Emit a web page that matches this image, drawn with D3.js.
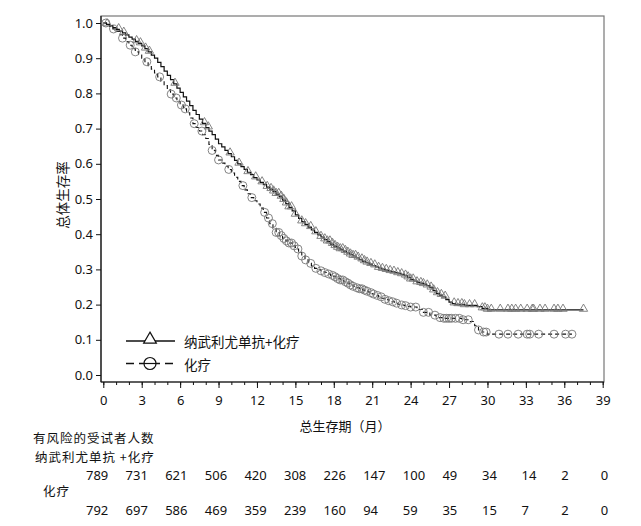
<!DOCTYPE html>
<html><head><meta charset="utf-8">
<script src="https://cdn.jsdelivr.net/npm/d3@7"></script>
<style>
html,body{margin:0;padding:0;background:#fff;}
svg{display:block;}
</style></head>
<body>
<svg id="c" width="641" height="526"></svg>
<script>
// ---- data ----
const seriesNames = ["纳武利尤单抗+化疗", "化疗"];
const xTicks = [0,3,6,9,12,15,18,21,24,27,30,33,36,39];
const yTicks = [0,0.1,0.2,0.3,0.4,0.5,0.6,0.7,0.8,0.9,1.0];

// KM step curve knots: [month, survival]
const nivoCurve = [
 [0,1.0],[0.25,0.996],[0.5,0.992],[0.75,0.987],[1,0.982],[1.25,0.977],[1.5,0.972],[1.75,0.966],
 [2,0.96],[2.25,0.954],[2.5,0.948],[2.75,0.942],[3,0.935],[3.25,0.927],[3.5,0.918],[3.75,0.909],
 [4,0.9],[4.25,0.888],[4.5,0.876],[4.75,0.863],[5,0.851],[5.25,0.839],[5.5,0.827],[5.75,0.815],
 [6,0.803],[6.25,0.79],[6.5,0.778],[6.75,0.765],[7,0.752],[7.25,0.74],[7.5,0.727],[7.75,0.715],
 [8,0.703],[8.25,0.693],[8.5,0.683],[8.75,0.67],[9,0.657],[9.25,0.648],[9.5,0.638],[9.75,0.629],
 [10,0.62],[10.25,0.61],[10.5,0.6],[10.75,0.592],[11,0.584],[11.25,0.576],[11.5,0.569],[11.75,0.561],
 [12,0.554],[12.25,0.547],[12.5,0.541],[12.75,0.534],[13,0.528],[13.25,0.521],[13.5,0.514],[13.75,0.506],
 [14,0.497],[14.25,0.487],[14.5,0.476],[14.75,0.466],[15,0.455],[15.25,0.445],[15.5,0.436],[15.75,0.428],
 [16,0.42],[16.25,0.412],[16.5,0.405],[16.75,0.398],[17,0.392],[17.25,0.385],[17.5,0.379],[17.75,0.372],
 [18,0.366],[18.25,0.361],[18.5,0.357],[18.75,0.352],[19,0.347],[19.25,0.342],[19.5,0.338],[19.75,0.333],
 [20,0.328],[20.25,0.323],[20.5,0.319],[20.75,0.315],[21,0.311],[21.25,0.307],[21.5,0.304],[21.75,0.301],
 [22,0.298],[22.25,0.295],[22.5,0.293],[22.75,0.291],[23,0.289],[23.25,0.286],[23.5,0.282],[23.75,0.277],
 [24,0.271],[24.25,0.267],[24.5,0.263],[24.75,0.261],[25,0.258],[25.25,0.254],[25.5,0.248],[25.75,0.24],
 [26,0.232],[26.25,0.227],[26.5,0.222],[26.75,0.214],[27,0.207],[27.25,0.203],[27.5,0.201],[28.2,0.198],
 [29.2,0.194],[29.6,0.189],[30,0.185],[37.5,0.185]
];
const chemoCurve = [
 [0,1.0],[0.25,0.995],[0.5,0.99],[0.75,0.983],[1,0.976],[1.25,0.967],[1.5,0.957],[1.75,0.947],
 [2,0.937],[2.25,0.927],[2.5,0.918],[2.75,0.909],[3,0.9],[3.25,0.89],[3.5,0.879],[3.75,0.869],
 [4,0.858],[4.25,0.847],[4.5,0.835],[4.75,0.822],[5,0.81],[5.25,0.798],[5.5,0.787],[5.75,0.777],
 [6,0.767],[6.25,0.756],[6.5,0.745],[6.75,0.73],[7,0.714],[7.25,0.703],[7.5,0.693],[7.75,0.683],
 [8,0.672],[8.25,0.655],[8.5,0.638],[8.75,0.624],[9,0.611],[9.25,0.602],[9.5,0.593],[9.75,0.584],
 [10,0.574],[10.25,0.562],[10.5,0.55],[10.75,0.538],[11,0.526],[11.25,0.515],[11.5,0.504],[11.75,0.495],
 [12,0.486],[12.25,0.474],[12.5,0.462],[12.75,0.446],[13,0.43],[13.25,0.417],[13.5,0.405],[13.75,0.396],
 [14,0.388],[14.25,0.381],[14.5,0.375],[14.75,0.367],[15,0.358],[15.25,0.348],[15.5,0.338],[15.75,0.327],
 [16,0.317],[16.25,0.31],[16.5,0.303],[16.75,0.299],[17,0.296],[17.25,0.291],[17.5,0.287],[17.75,0.283],
 [18,0.279],[18.25,0.274],[18.5,0.27],[18.75,0.265],[19,0.261],[19.25,0.256],[19.5,0.252],[19.75,0.248],
 [20,0.245],[20.25,0.241],[20.5,0.238],[20.75,0.234],[21,0.23],[21.25,0.226],[21.5,0.222],[21.75,0.218],
 [22,0.215],[22.25,0.211],[22.5,0.208],[22.75,0.204],[23,0.201],[23.25,0.199],[23.5,0.197],[23.75,0.195],
 [24,0.193],[24.5,0.186],[25,0.178],[25.5,0.17],[26,0.163],[26.5,0.161],[28,0.157],[28.6,0.152],
 [29,0.14],[29.3,0.128],[29.6,0.122],[30,0.116],[36.6,0.116]
];
// censored observation times (months)
const nivoCensor = [0.3,1.2,1.6,2.6,2.9,3.3,3.6,5.6,7.9,8.2,9.9,10.6,11.3,11.9,12.4,12.8,13.1,13.3,
 13.5,13.7,13.9,14.1,14.3,14.5,14.7,15.0,15.5,15.8,16.2,16.6,17.0,17.3,17.5,17.7,17.9,18.1,18.3,
 18.5,18.7,18.9,19.1,19.3,19.5,19.7,19.9,20.2,20.4,20.6,20.9,21.2,21.5,21.8,22.1,22.4,22.7,23.0,
 23.3,23.6,23.8,24.0,24.2,24.5,24.8,25.0,25.3,25.6,25.8,26.1,26.4,26.7,27.4,27.7,28.0,28.2,28.6,
 29.0,29.6,29.8,30.0,30.3,31.0,31.6,31.9,32.2,32.6,33.1,33.5,33.6,34.1,34.5,35.2,35.5,35.9,37.5];
const chemoCensor = [0.2,0.8,1.5,2.1,2.5,3.4,4.4,5.3,5.7,6.1,6.4,7.1,7.7,8.5,9.0,9.8,10.9,11.6,12.6,
 12.9,13.2,13.5,13.7,13.9,14.1,14.3,14.5,14.7,14.9,15.2,15.5,15.8,16.2,16.6,17.0,17.3,17.6,17.9,
 18.1,18.3,18.5,18.7,18.9,19.1,19.3,19.5,19.8,20.0,20.2,20.4,20.6,20.9,21.1,21.4,21.7,22.0,22.3,
 22.6,22.9,23.3,23.6,24.0,24.4,25.0,25.4,25.9,26.3,26.6,26.8,27.0,27.2,27.5,27.8,28.1,28.5,29.3,
 29.7,29.9,30.9,31.6,32.4,33.1,33.3,34.0,35.2,36.1,36.6];

// number at risk
const riskTitle = "有风险的受试者人数";
const riskLabels = ["纳武利尤单抗 +化疗", "化疗"];
const nivoRisk  = [789,731,621,506,420,308,226,147,100,49,34,14,2,0];
const chemoRisk = [792,697,586,469,359,239,160,94,59,35,15,7,2,0];
const xTitle = "总生存期（月）";
const yTitle = "总体生存率";

// ---- drawing ----
const svg = d3.select("#c");
const x = d3.scaleLinear().domain([0,39]).range([103.3,602.7]);
const y = d3.scaleLinear().domain([0,1]).range([375,23]);
const riskX = d3.scaleLinear().domain([0,39]).range([86,600.8]);
const cjk = "'Noto Sans CJK SC','Noto Sans',sans-serif";
const num = "'Noto Sans','Open Sans',sans-serif";

// frame
svg.append("rect").attr("x",101).attr("y",16).attr("width",503).attr("height",366)
  .attr("fill","none").attr("stroke","#777").attr("stroke-width",1.2);

// y axis
const yAxis = svg.append("g").attr("transform","translate(101,0)")
  .call(d3.axisLeft(y).tickValues(yTicks).tickFormat(d3.format(".1f")).tickSize(5).tickPadding(3));
yAxis.select(".domain").attr("d","M0,16V382").attr("stroke","#111").attr("stroke-width",1.2);
yAxis.selectAll("text").attr("font-family",num).attr("font-size",13).attr("fill","#111");
yAxis.selectAll(".tick line").attr("stroke","#111");

// x axis
const xAxis = svg.append("g").attr("transform","translate(0,382)")
  .call(d3.axisBottom(x).tickValues(xTicks).tickSize(6).tickPadding(8));
xAxis.select(".domain").attr("d","M101,0H604").attr("stroke","#111").attr("stroke-width",1.2);
xAxis.selectAll("text").attr("font-family",num).attr("font-size",13).attr("fill","#111");
xAxis.selectAll(".tick line").attr("stroke","#111");
const minor = svg.append("g").attr("transform","translate(0,382)")
  .call(d3.axisBottom(x).ticks(39).tickSize(3).tickFormat(""));
minor.select(".domain").remove();
minor.selectAll(".tick line").attr("stroke","#111");

// titles
svg.append("text").attr("x",345).attr("y",425).attr("text-anchor","middle")
  .attr("dominant-baseline","central").attr("font-family",cjk).attr("font-size",13).attr("fill","#111").text(xTitle);
svg.append("text").attr("transform","translate(62,195) rotate(-90)").attr("text-anchor","middle")
  .attr("dominant-baseline","central").attr("font-family",cjk).attr("font-size",13.5).attr("fill","#111").text(yTitle);

// curves
const line = d3.line().x(d=>x(d[0])).y(d=>y(d[1])).curve(d3.curveStepAfter);
function survAt(curve,t){ let s=curve[0][1]; for(const d of curve){ if(d[0]<=t) s=d[1]; } return s; }

const triSym = d3.symbol().type(d3.symbolTriangle).size(30);
const triSymL = d3.symbol().type(d3.symbolTriangle).size(70);

// chemo
svg.append("path").datum(chemoCurve).attr("d",line).attr("fill","none")
  .attr("stroke","#111").attr("stroke-width",1.1).attr("stroke-dasharray","4,3");
svg.append("g").selectAll("circle").data(chemoCensor).join("circle")
  .attr("cx",d=>x(d)).attr("cy",d=>y(survAt(chemoCurve,d))).attr("r",4)
  .attr("fill","none").attr("stroke","#777").attr("stroke-width",0.9);
// nivo
svg.append("path").datum(nivoCurve).attr("d",line).attr("fill","none")
  .attr("stroke","#111").attr("stroke-width",1.2);
svg.append("g").selectAll("path").data(nivoCensor).join("path")
  .attr("d",triSym).attr("transform",d=>`translate(${x(d)},${y(survAt(nivoCurve,d))-1})`)
  .attr("fill","none").attr("stroke","#777").attr("stroke-width",0.9);

// legend
const lg = svg.append("g");
lg.append("line").attr("x1",126).attr("x2",175).attr("y1",341).attr("y2",341).attr("stroke","#111").attr("stroke-width",1.3);
lg.append("path").attr("d",triSymL).attr("transform","translate(150,339.5)").attr("fill","#fff").attr("stroke","#111").attr("stroke-width",1.2);
lg.append("text").attr("x",184).attr("y",341).attr("dominant-baseline","central")
  .attr("font-family",cjk).attr("font-size",13.5).attr("fill","#111").text(seriesNames[0]);
lg.append("line").attr("x1",126).attr("x2",175).attr("y1",363.5).attr("y2",363.5).attr("stroke","#111").attr("stroke-width",1.3).attr("stroke-dasharray","8,5");
lg.append("circle").attr("cx",150).attr("cy",363.5).attr("r",6).attr("fill","#fff").attr("stroke","#111").attr("stroke-width",1.2);
lg.append("line").attr("x1",144).attr("x2",156).attr("y1",363.5).attr("y2",363.5).attr("stroke","#111").attr("stroke-width",1.2);
lg.append("text").attr("x",184).attr("y",363.5).attr("dominant-baseline","central")
  .attr("font-family",cjk).attr("font-size",13.5).attr("fill","#111").text(seriesNames[1]);

// risk table
const rt = svg.append("g").attr("font-family",cjk).attr("font-size",12.5).attr("letter-spacing","1px").attr("fill","#111");
rt.append("text").attr("x",33).attr("y",437.5).attr("dominant-baseline","central").text(riskTitle);
rt.append("text").attr("x",35).attr("y",456).attr("dominant-baseline","central").text(riskLabels[0]);
rt.append("text").attr("x",43).attr("y",490.5).attr("dominant-baseline","central").text(riskLabels[1]);
const rn = svg.append("g").attr("font-family",num).attr("font-size",13).attr("fill","#111");
rn.selectAll("text.r1").data(nivoRisk).join("text").attr("class","r1")
  .attr("x",(d,i)=>riskX(xTicks[i])).attr("y",474.5).attr("dominant-baseline","central").text(d=>d);
rn.selectAll("text.r2").data(chemoRisk).join("text").attr("class","r2")
  .attr("x",(d,i)=>riskX(xTicks[i])).attr("y",509.5).attr("dominant-baseline","central").text(d=>d);
</script>
</body></html>
